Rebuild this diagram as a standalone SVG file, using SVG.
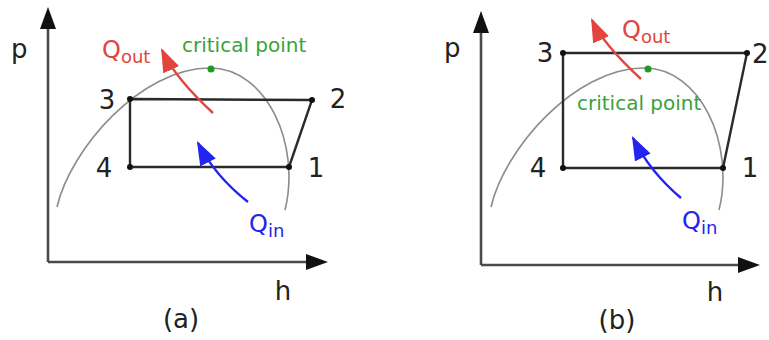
<svg xmlns="http://www.w3.org/2000/svg" width="769" height="340" viewBox="0 0 769 340">
<defs>
<style>
.ax{stroke:#4a4a4a;stroke-width:2.6;fill:none}
.ah{fill:#111}
.cyc{stroke:#2a2a2a;stroke-width:2.4;fill:none}
.dome{stroke:#8c8c8c;stroke-width:1.6;fill:none}
.dot{fill:#111}
.cp{fill:#1f9a1f}
.t{font-family:"DejaVu Sans",Verdana,sans-serif;fill:#222}
.lbl{font-size:26px}
.green{font-size:20px;fill:#3aa23a}
.qo{font-size:24px;fill:#e2453e}
.qi{font-size:24px;fill:#2424f0}
.sub{font-size:18px}
.ra{stroke:#e2453e;stroke-width:2.4;fill:none;marker-end:url(#mr)}
.ba{stroke:#2424f0;stroke-width:2.4;fill:none;marker-end:url(#mb)}
</style>
<marker id="mr" markerUnits="userSpaceOnUse" markerWidth="24" markerHeight="18" viewBox="0 0 22 16" refX="20" refY="8" orient="auto"><path d="M0,0 L22,8 L0,16 Z" fill="#e2453e"/></marker>
<marker id="mb" markerUnits="userSpaceOnUse" markerWidth="24" markerHeight="18" viewBox="0 0 22 16" refX="20" refY="8" orient="auto"><path d="M0,0 L22,8 L0,16 Z" fill="#2424f0"/></marker>
</defs>
<rect width="769" height="340" fill="#fff"/>

<g id="panel-a">
  <g id="axes-a">
    <path class="ax" d="M48,262 L48,28 M48,262 L307,262"/>
    <path class="ah" d="M48,7 L40,29 L56,29 Z"/>
    <path class="ah" d="M328,262 L306,254 L306,270 Z"/>
  </g>
  <path id="dome-a" class="dome" d="M57,207 C70,150 140,68 210,68 C267,68 301,145 285,210"/>
  <g id="cycle-a">
    <path class="cyc" d="M130,99 L312,100 L289,167 L130,167 Z"/>
    <circle class="dot" cx="130" cy="99" r="3"/>
    <circle class="dot" cx="312" cy="100" r="3"/>
    <circle class="dot" cx="289" cy="167" r="3"/>
    <circle class="dot" cx="130" cy="167" r="3"/>
  </g>
  <circle class="cp" cx="211" cy="69" r="3.5"/>
  <g id="arrows-a">
    <path class="ra" d="M213,113 Q175,78 162,50"/>
    <path class="ba" d="M248,202 Q215,176 198,143"/>
  </g>
  <g id="labels-a" class="t">
    <text class="lbl" x="11" y="58">p</text>
    <text class="lbl" x="283" y="300" text-anchor="middle">h</text>
    <text class="lbl" x="181" y="328" text-anchor="middle">(a)</text>
    <text class="lbl" x="107" y="109" text-anchor="middle">3</text>
    <text class="lbl" x="338" y="108" text-anchor="middle">2</text>
    <text class="lbl" x="104" y="177" text-anchor="middle">4</text>
    <text class="lbl" x="316" y="177" text-anchor="middle">1</text>
    <text class="green" x="182" y="52">critical point</text>
    <text class="qo" x="102" y="58">Q<tspan class="sub" dy="5">out</tspan></text>
    <text class="qi" x="249" y="232">Q<tspan class="sub" dy="5">in</tspan></text>
  </g>
</g>

<g id="panel-b">
  <g id="axes-b">
    <path class="ax" d="M481,265 L481,32 M481,265 L739,265"/>
    <path class="ah" d="M481,11 L473,33 L489,33 Z"/>
    <path class="ah" d="M760,265 L738,257 L738,273 Z"/>
  </g>
  <path id="dome-b" class="dome" d="M491,207 C504,150 574,68 644,68 C701,68 735,145 719,210"/>
  <g id="cycle-b">
    <path class="cyc" d="M563,53 L747,53 L723,168 L563,168 Z"/>
    <circle class="dot" cx="563" cy="53" r="3"/>
    <circle class="dot" cx="747" cy="53" r="3"/>
    <circle class="dot" cx="723" cy="168" r="3"/>
    <circle class="dot" cx="563" cy="168" r="3"/>
  </g>
  <circle class="cp" cx="648" cy="69" r="3.5"/>
  <g id="arrows-b">
    <path class="ra" d="M641,79 Q603,44 592,20"/>
    <path class="ba" d="M681,198 Q650,172 633,138"/>
  </g>
  <g id="labels-b" class="t">
    <text class="lbl" x="444" y="57">p</text>
    <text class="lbl" x="715" y="301" text-anchor="middle">h</text>
    <text class="lbl" x="617" y="329" text-anchor="middle">(b)</text>
    <text class="lbl" x="545" y="62" text-anchor="middle">3</text>
    <text class="lbl" x="752" y="63">2</text>
    <text class="lbl" x="538" y="177" text-anchor="middle">4</text>
    <text class="lbl" x="750" y="177" text-anchor="middle">1</text>
    <text class="green" x="577" y="110">critical point</text>
    <text class="qo" x="622" y="38">Q<tspan class="sub" dy="5">out</tspan></text>
    <text class="qi" x="682" y="229">Q<tspan class="sub" dy="5">in</tspan></text>
  </g>
</g>
</svg>
